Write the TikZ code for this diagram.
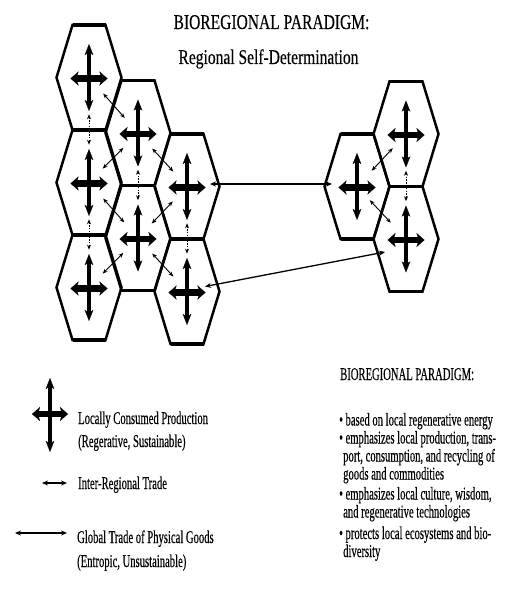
\documentclass[tikz,border=0pt]{standalone}
\usepackage{fontspec}
\setmainfont{Liberation Serif}
\newfontfamily\titlef[FakeStretch=0.74,FakeBold=0.3]{Liberation Serif}
\newfontfamily\bodyf[FakeStretch=0.59,FakeBold=0.3]{Liberation Serif}
\usetikzlibrary{arrows.meta,calc}
\tikzset{
  hexline/.style={line width=2.5pt, line join=miter},
  hexflat/.style={line width=3.6pt},
  crossv/.style={line width=3.6pt, arrows={Stealth[length=11pt,width=8.5pt,inset=2.5pt,line width=0.2pt]-Stealth[length=11pt,width=8.5pt,inset=2.5pt,line width=0.2pt]}},
  crossh/.style={line width=6.5pt, arrows={Stealth[length=8pt,width=14pt,inset=2pt,line width=0.2pt]-Stealth[length=8pt,width=14pt,inset=2pt,line width=0.2pt]}},
  trade/.style={line width=0.9pt, <->, >={Stealth[length=5pt,width=4pt]}},
  vtrade/.style={trade, dash pattern=on 1.6pt off 1.2pt},
  global/.style={line width=1.3pt, <->, >={Stealth[length=6pt,width=5pt]}},
  bodytext/.style={inner sep=0pt, font=\bodyf\fontsize{18}{18}\selectfont},
  titletext/.style={inner sep=0pt, font=\titlef\fontsize{21}{21}\selectfont},
}
\newcommand\hexat[3]{%
  \coordinate (#1) at (#2,#3);
  \draw[hexline] ($(#1)+(-16.5,-52.5)$) -- ($(#1)+(16.5,-52.5)$) -- ($(#1)+(32.5,0)$)
     -- ($(#1)+(16.5,52.5)$) -- ($(#1)+(-16.5,52.5)$) -- ($(#1)+(-32.5,0)$) -- cycle;
  \draw[hexflat] ($(#1)+(-16.5,-52.5)$) -- ($(#1)+(16.5,-52.5)$)
     ($(#1)+(-16.5,52.5)$) -- ($(#1)+(16.5,52.5)$);
  \draw[crossv] ($(#1)+(0,-33.5)$) -- ($(#1)+(0,33.5)$);
  \draw[crossh] ($(#1)+(-18.5,1)$) -- ($(#1)+(18.5,1)$);
}
\begin{document}
\begin{tikzpicture}[x=1pt,y=-1pt]
\useasboundingbox (0,0) rectangle (504,596);
% titles
\node[titletext, anchor=base] (title1) at (271.5,29) {BIOREGIONAL PARADIGM:};
\node[titletext, anchor=base] (title2) at (268.5,64) {Regional Self-Determination};
% left cluster
\hexat{L11}{89}{77.5}
\hexat{L12}{89}{182.5}
\hexat{L13}{89}{287.5}
\hexat{L21}{138}{133}
\hexat{L22}{138}{238}
\hexat{L31}{187}{186.5}
\hexat{L32}{187}{291.5}
% right cluster
\hexat{RA}{357}{186.5}
\hexat{RB1}{406}{134}
\hexat{RB2}{406}{239}
% inter-regional trade (diagonal)
\draw[trade] ($(L11)!0.29!(L21)$) -- ($(L11)!0.73!(L21)$);
\draw[trade] ($(L21)!0.30!(L12)$) -- ($(L21)!0.72!(L12)$);
\draw[trade] ($(L21)!0.29!(L31)$) -- ($(L21)!0.72!(L31)$);
\draw[trade] ($(L12)!0.29!(L22)$) -- ($(L12)!0.72!(L22)$);
\draw[trade] ($(L31)!0.29!(L22)$) -- ($(L31)!0.72!(L22)$);
\draw[trade] ($(L22)!0.30!(L13)$) -- ($(L22)!0.72!(L13)$);
\draw[trade] ($(L22)!0.29!(L32)$) -- ($(L22)!0.72!(L32)$);
\draw[trade] ($(RA)!0.30!(RB1)$) -- ($(RA)!0.73!(RB1)$);
\draw[trade] ($(RA)!0.26!(RB2)$) -- ($(RA)!0.69!(RB2)$);
% inter-regional trade (vertical)
\draw[vtrade] ($(L11)!0.35!(L12)$) -- ($(L11)!0.64!(L12)$);
\draw[vtrade] ($(L12)!0.35!(L13)$) -- ($(L12)!0.64!(L13)$);
\draw[vtrade] ($(L21)!0.35!(L22)$) -- ($(L21)!0.64!(L22)$);
\draw[vtrade] ($(L31)!0.35!(L32)$) -- ($(L31)!0.64!(L32)$);
\draw[vtrade] ($(RB1)!0.35!(RB2)$) -- ($(RB1)!0.64!(RB2)$);
% global trade
\draw[global] ($(L31)+(23,-2.5)$) -- ($(RA)+(-25,-2.5)$);
\draw[global] ($(L32)+(18,-5)$) -- ($(RB2)+(-21,13)$);
% legend
\coordinate (lc) at (50,415);
\draw[crossv] ($(lc)+(0,-37)$) -- ($(lc)+(0,37)$);
\draw[crossh] ($(lc)+(-18,-1)$) -- ($(lc)+(18,-1)$);
\coordinate (ta) at (42,483);
\coordinate (tb) at (67,483);
\draw[global, line width=1.2pt] (ta) -- (tb);
\coordinate (ga) at (15,533);
\coordinate (gb) at (67,533);
\draw[global] (ga) -- (gb);
\node[bodytext, anchor=base west] (lg1) at (78,424) {Locally Consumed Production};
\node[bodytext, anchor=base west] (lg2) at (78,447) {(Regerative, Sustainable)};
\node[bodytext, anchor=base west] (lg3) at (78,489) {Inter-Regional Trade};
\node[bodytext, anchor=base west] (lg4) at (77,543) {Global Trade of Physical Goods};
\node[bodytext, anchor=base west] (lg5) at (77,567) {(Entropic, Unsustainable)};
% right text
\node[bodytext, anchor=base west] (rh) at (340,380) {BIOREGIONAL PARADIGM:};
\node[bodytext, anchor=base west] (r1) at (339,425.5) {\textbullet\ based on local regenerative energy};
\node[bodytext, anchor=base west] (r2) at (339,443.5) {\textbullet\ emphasizes local production, trans-};
\node[bodytext, anchor=base west] (r3) at (343,461.5) {port, consumption, and recycling of};
\node[bodytext, anchor=base west] (r4) at (343,479.5) {goods and commodities};
\node[bodytext, anchor=base west] (r5) at (339,499.5) {\textbullet\ emphasizes local culture, wisdom,};
\node[bodytext, anchor=base west] (r6) at (343,517.5) {and regenerative technologies};
\node[bodytext, anchor=base west] (r7) at (339,539) {\textbullet\ protects local ecosystems and bio-};
\node[bodytext, anchor=base west] (r8) at (343,557) {diversity};
\end{tikzpicture}
\end{document}
